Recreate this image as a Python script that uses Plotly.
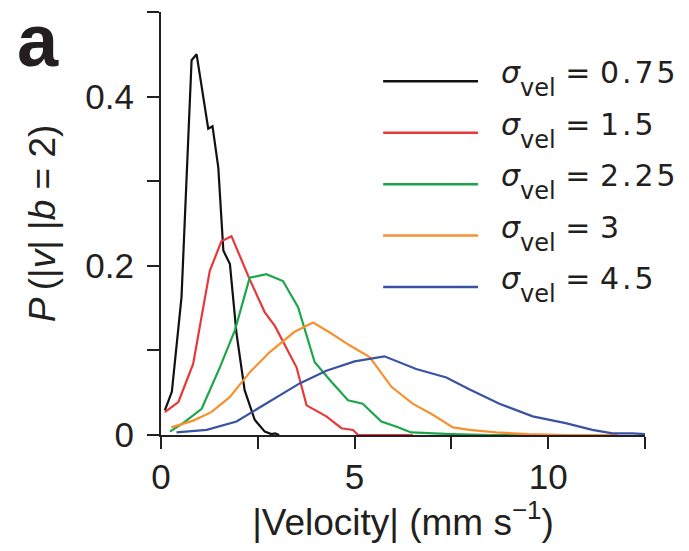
import plotly.graph_objects as go

# ---- data ----
sigma_labels = ["0.75", "1.5", "2.25", "3", "4.5"]
colors = ["#111111", "#e8393a", "#1ca64b", "#f7912f", "#3a52a3"]

x_075 = [0.10, 0.28, 0.53, 0.79, 0.92, 1.22, 1.33, 1.48, 1.61, 1.78, 1.95, 2.16, 2.42, 2.68, 2.85, 2.95, 3.05]
y_075 = [0.029, 0.051, 0.163, 0.443, 0.450, 0.362, 0.365, 0.316, 0.218, 0.202, 0.120, 0.053, 0.018, 0.004, 0.001, 0.002, 0.0]

x_150 = [0.10, 0.45, 0.83, 1.26, 1.56, 1.82, 2.29, 2.68, 2.94, 3.50, 3.76, 4.27, 4.66, 4.96, 5.09, 5.8, 6.5]
y_150 = [0.027, 0.039, 0.084, 0.194, 0.229, 0.235, 0.184, 0.145, 0.129, 0.080, 0.035, 0.022, 0.008, 0.006, 0.0, 0.0, 0.0]

x_225 = [0.23, 0.57, 1.05, 1.52, 1.91, 2.29, 2.72, 3.15, 3.54, 3.97, 4.40, 4.83, 5.21, 5.69, 6.07, 6.46, 7.5, 8.5, 9.5]
y_225 = [0.004, 0.014, 0.031, 0.080, 0.124, 0.186, 0.190, 0.182, 0.151, 0.086, 0.063, 0.041, 0.037, 0.016, 0.010, 0.003, 0.001, 0.0, 0.0]

x_300 = [0.27, 0.83, 1.30, 1.78, 2.29, 2.81, 3.45, 3.93, 4.40, 4.87, 5.39, 5.95, 6.50, 7.02, 7.54, 7.96, 8.65, 9.5, 10.5, 11.8]
y_300 = [0.009, 0.017, 0.027, 0.045, 0.074, 0.098, 0.122, 0.133, 0.120, 0.106, 0.092, 0.057, 0.037, 0.024, 0.009, 0.006, 0.003, 0.001, 0.0, 0.0]

x_450 = [0.40, 1.18, 1.95, 2.72, 3.58, 4.27, 5.00, 5.77, 6.59, 7.37, 7.96, 8.74, 9.60, 10.45, 11.14, 11.66, 12.17, 12.5]
y_450 = [0.003, 0.006, 0.016, 0.037, 0.061, 0.076, 0.087, 0.093, 0.078, 0.068, 0.054, 0.037, 0.022, 0.014, 0.006, 0.002, 0.002, 0.001]

series_x = [x_075, x_150, x_225, x_300, x_450]
series_y = [y_075, y_150, y_225, y_300, y_450]

x_tickvals = [0, 2.5, 5, 7.5, 10, 12.5]
x_ticktext = ["0", "", "5", "", "10", ""]
y_tickvals = [0, 0.1, 0.2, 0.3, 0.4, 0.5]
y_ticktext = ["0", "", "0.2", "", "0.4", ""]

FONT = "Liberation Sans, Arial, sans-serif"
LEGFONT = "DejaVu Sans, Liberation Sans, sans-serif"
AXC = "#231f20"

fig = go.Figure()
for xs, ys, c, lab in zip(series_x, series_y, colors, sigma_labels):
    fig.add_trace(go.Scatter(x=xs, y=ys, mode="lines", line=dict(color=c, width=2.2),
                             name=lab, showlegend=False))

# manual legend (long line samples like the reference)
leg_y0 = 0.836
leg_dy = 0.1215
for i, (c, lab) in enumerate(zip(colors, sigma_labels)):
    yy = leg_y0 - i * leg_dy
    fig.add_shape(type="line", xref="paper", yref="paper", x0=0.459, x1=0.655, y0=yy, y1=yy,
                  line=dict(color=c, width=2.5))
    txt = ("<i>σ</i><sub><span style='font-size:24px;baseline-shift:-7px'>vel</span></sub>"
           + " = <span style='letter-spacing:3px'>" + lab + "</span>")
    fig.add_annotation(xref="paper", yref="paper", x=0.698, y=yy + 0.006, xanchor="left", yanchor="middle",
                       text=txt, showarrow=False,
                       font=dict(family=LEGFONT, size=30, color="#231f20"))

fig.add_annotation(xref="paper", yref="paper", x=-0.302, y=1.036, xanchor="left", yanchor="top",
                   text="<b>a</b>", showarrow=False,
                   font=dict(family=FONT, size=74, color="#231f20"))

fig.update_layout(
    width=689, height=551,
    margin=dict(l=161, r=44, t=12, b=116),
    paper_bgcolor="white", plot_bgcolor="white",
    font=dict(family=FONT, size=35, color="#231f20"),
    xaxis=dict(range=[0, 12.5], tickvals=x_tickvals, ticktext=x_ticktext,
               showline=True, linecolor=AXC, linewidth=2, ticks="outside", ticklen=12,
               tickwidth=2, tickcolor=AXC, showgrid=False, zeroline=False,
               ticklabelstandoff=-2,
               title=dict(text="|Velocity| (mm s<sup>−1</sup>)", standoff=7,
                          font=dict(size=37))),
    yaxis=dict(range=[0, 0.5], tickvals=y_tickvals, ticktext=y_ticktext,
               showline=True, linecolor=AXC, linewidth=2, ticks="outside", ticklen=12,
               tickwidth=2, tickcolor=AXC, showgrid=False, zeroline=False,
               ticklabelstandoff=6,
               title=dict(text="<i>P</i>\u2009(|<i>v</i>| |<i>b</i> = 2)", standoff=18,
                          font=dict(size=37))),
)

fig.write_html("out.html")
